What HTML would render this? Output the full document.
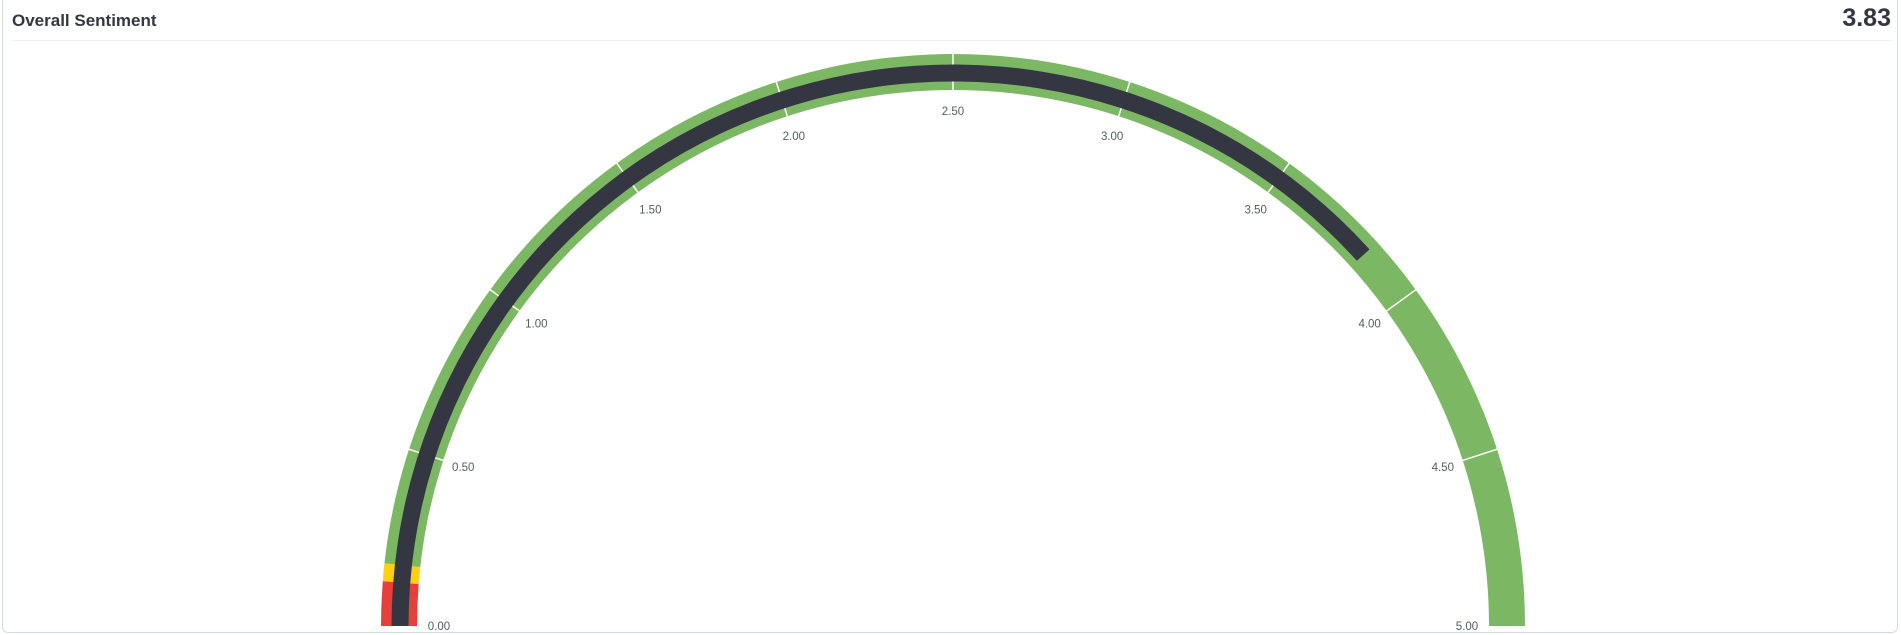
<!DOCTYPE html>
<html><head><meta charset="utf-8"><style>
html,body{margin:0;padding:0;background:#fff;width:1901px;height:635px;overflow:hidden;font-family:"Liberation Sans",sans-serif}
.card{position:absolute;left:2px;top:-4px;width:1896px;height:637px;border:1px solid #d3dae6;border-radius:6px;box-sizing:border-box}
.title{position:absolute;left:12px;top:11px;font-size:17px;font-weight:bold;color:#343741}
.val{position:absolute;right:10px;top:4px;font-size:25px;font-weight:bold;color:#343741}
.hr{position:absolute;left:11px;right:8px;top:40px;height:1px;background:#eef0f4}
svg{position:absolute;left:0;top:0}
</style></head><body>
<div class="card"></div>
<div class="title">Overall Sentiment</div>
<div class="val">3.83</div>
<div class="hr"></div>
<svg id="g" width="1901" height="635"></svg>
<script>
const gaugeMin = 0;
const gaugeMax = 5;
const gaugeValue = 3.83;
const bandStarts = [0, 0.125, 0.175];
const bandEnds = [0.125, 0.175, 5];
const bandColors = ['#e7403a', '#fed010', '#7cb764'];
const tickValues = [0, 0.5, 1, 1.5, 2, 2.5, 3, 3.5, 4, 4.5, 5];
const tickLabels = ['0.00','0.50','1.00','1.50','2.00','2.50','3.00','3.50','4.00','4.50','5.00'];

const NS='http://www.w3.org/2000/svg', svg=document.getElementById('g');
const cx=953, cy=626, rO=572, rI=536, rN=553, nW=17, rL=515;
function ang(v){return Math.PI*(1-(v-gaugeMin)/(gaugeMax-gaugeMin));}
function pt(v,r){const a=ang(v);return [cx+r*Math.cos(a), cy-r*Math.sin(a)];}
function ring(v0,v1,r0,r1){
  const a=pt(v0,r1),b=pt(v1,r1),c=pt(v1,r0),d=pt(v0,r0);
  const lg=Math.abs(v1-v0)/(gaugeMax-gaugeMin)>1?1:0;
  return `M${a[0]},${a[1]} A${r1},${r1} 0 ${lg} 1 ${b[0]},${b[1]} L${c[0]},${c[1]} A${r0},${r0} 0 ${lg} 0 ${d[0]},${d[1]}Z`;
}
for(let i=0;i<bandStarts.length;i++){
  const p=document.createElementNS(NS,'path');
  p.setAttribute('d',ring(bandStarts[i],bandEnds[i],rI,rO));
  p.setAttribute('fill',bandColors[i]);
  
  
  svg.appendChild(p);
}
for(let i=1;i<tickValues.length-1;i++){
  const a=pt(tickValues[i],rI-1),b=pt(tickValues[i],rO+1);
  const l=document.createElementNS(NS,'line');
  l.setAttribute('x1',a[0]);l.setAttribute('y1',a[1]);l.setAttribute('x2',b[0]);l.setAttribute('y2',b[1]);
  l.setAttribute('stroke','#fff');l.setAttribute('stroke-width','1.5');
  
  
  svg.appendChild(l);
}
const n=document.createElementNS(NS,'path');
n.setAttribute('d',ring(gaugeMin,gaugeValue,rN-nW/2,rN+nW/2));
n.setAttribute('fill','#343741');


svg.appendChild(n);
for(let i=0;i<tickValues.length;i++){
  let p=pt(tickValues[i],rL);
  const t=document.createElementNS(NS,'text');
  let x=p[0], y=p[1]+4;
  if(i===0){x=cx-rI+22;y=cy+4;}
  if(i===tickValues.length-1){x=cx+rI-22;y=cy+4;}
  t.setAttribute('x',x);t.setAttribute('y',y);
  t.setAttribute('text-anchor','middle');
  t.setAttribute('font-size','11.5');t.setAttribute('fill','#555a64');
  t.setAttribute('font-family','Liberation Sans, sans-serif');
  t.textContent=tickLabels[i];
  
  
  svg.appendChild(t);
}
</script>
</body></html>
